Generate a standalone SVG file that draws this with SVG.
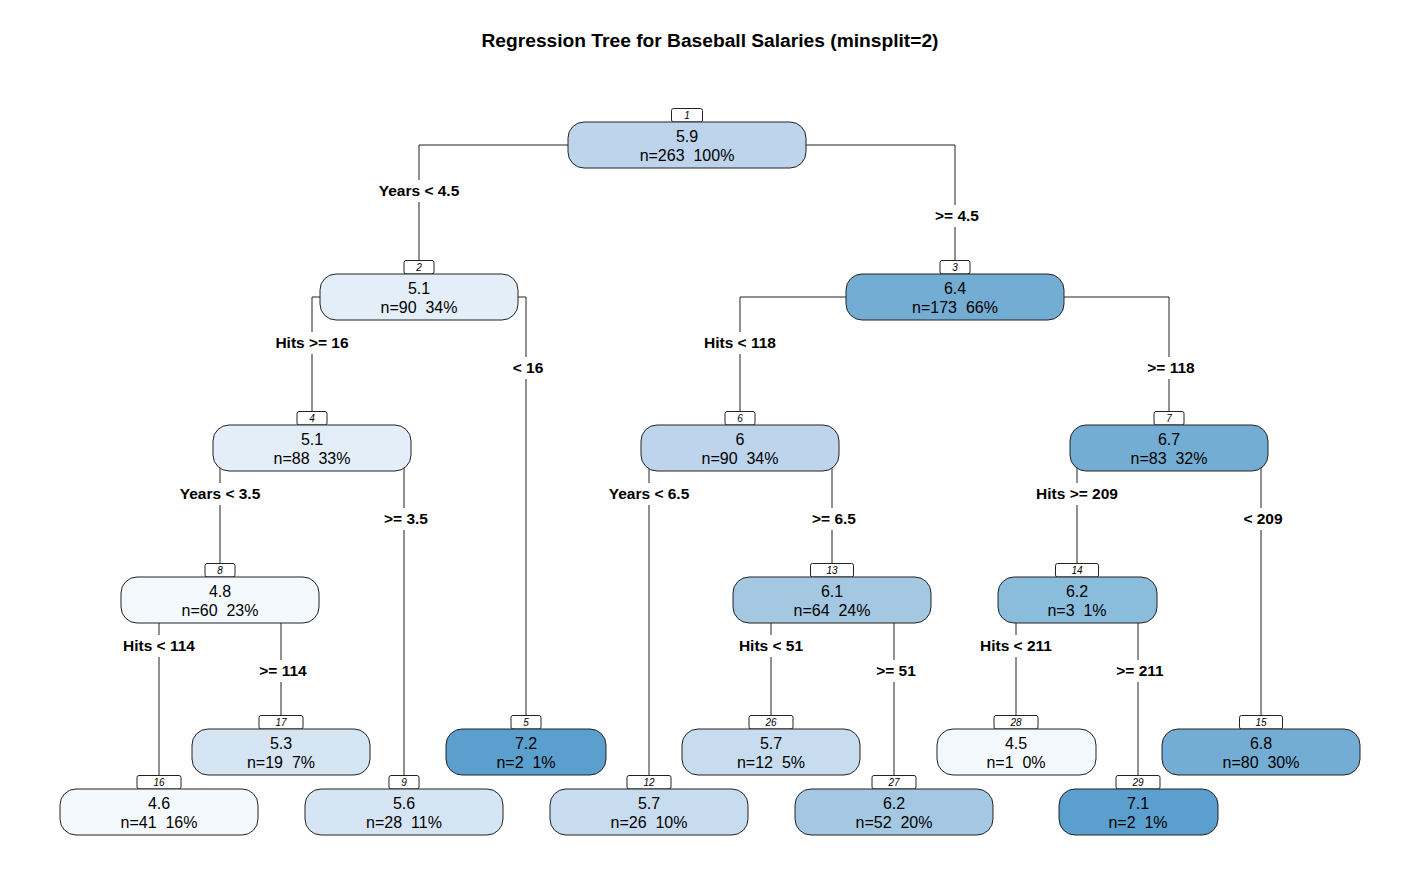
<svg xmlns="http://www.w3.org/2000/svg" width="1420" height="882" viewBox="0 0 1420 882">
<style>
text{font-family:"Liberation Sans",Arial,sans-serif;fill:#000}
.title{font-size:19.2px;font-weight:bold;text-anchor:middle}
.box{stroke:#222;stroke-width:1}
.nb{fill:#fff;stroke:#222;stroke-width:1}
.nt{font-size:10px;font-style:italic;text-anchor:middle}
.v{font-size:16px;text-anchor:middle;white-space:pre}
.e{fill:none;stroke:#222;stroke-width:1}
.gap{fill:#fff}
.lab{font-size:15.5px;font-weight:bold;text-anchor:middle}
</style>
<rect width="1420" height="882" fill="#fff"/>
<text class="title" x="710" y="47">Regression Tree for Baseball Salaries (minsplit=2)</text>
<g id="connectors">
<path class="e" d="M687,145 H419 V260"/>
<path class="e" d="M687,145 H955 V260"/>
<path class="e" d="M419,297 H312 V412"/>
<path class="e" d="M419,297 H526 V716"/>
<path class="e" d="M955,297 H740 V412"/>
<path class="e" d="M955,297 H1169 V412"/>
<path class="e" d="M312,448 H220 V564"/>
<path class="e" d="M312,448 H404 V776"/>
<path class="e" d="M740,448 H649 V776"/>
<path class="e" d="M740,448 H832 V564"/>
<path class="e" d="M1169,448 H1077 V564"/>
<path class="e" d="M1169,448 H1261 V716"/>
<path class="e" d="M220,600 H159 V776"/>
<path class="e" d="M220,600 H281 V716"/>
<path class="e" d="M832,600 H771 V716"/>
<path class="e" d="M832,600 H894 V776"/>
<path class="e" d="M1077,600 H1016 V716"/>
<path class="e" d="M1077,600 H1138 V776"/>
<rect class="gap" x="399" y="180" width="40" height="22"/><text class="lab" x="419" y="195.5">Years &lt; 4.5</text>
<rect class="gap" x="935" y="205" width="40" height="22"/><text class="lab" x="957" y="220.5">&gt;= 4.5</text>
<rect class="gap" x="292" y="332" width="40" height="22"/><text class="lab" x="312" y="347.5">Hits &gt;= 16</text>
<rect class="gap" x="506" y="357" width="40" height="22"/><text class="lab" x="528" y="372.5">&lt; 16</text>
<rect class="gap" x="720" y="332" width="40" height="22"/><text class="lab" x="740" y="347.5">Hits &lt; 118</text>
<rect class="gap" x="1149" y="357" width="40" height="22"/><text class="lab" x="1171" y="372.5">&gt;= 118</text>
<rect class="gap" x="200" y="483" width="40" height="22"/><text class="lab" x="220" y="498.5">Years &lt; 3.5</text>
<rect class="gap" x="384" y="508" width="40" height="22"/><text class="lab" x="406" y="523.5">&gt;= 3.5</text>
<rect class="gap" x="629" y="483" width="40" height="22"/><text class="lab" x="649" y="498.5">Years &lt; 6.5</text>
<rect class="gap" x="812" y="508" width="40" height="22"/><text class="lab" x="834" y="523.5">&gt;= 6.5</text>
<rect class="gap" x="1057" y="483" width="40" height="22"/><text class="lab" x="1077" y="498.5">Hits &gt;= 209</text>
<rect class="gap" x="1241" y="508" width="40" height="22"/><text class="lab" x="1263" y="523.5">&lt; 209</text>
<rect class="gap" x="139" y="635" width="40" height="22"/><text class="lab" x="159" y="650.5">Hits &lt; 114</text>
<rect class="gap" x="261" y="660" width="40" height="22"/><text class="lab" x="283" y="675.5">&gt;= 114</text>
<rect class="gap" x="751" y="635" width="40" height="22"/><text class="lab" x="771" y="650.5">Hits &lt; 51</text>
<rect class="gap" x="874" y="660" width="40" height="22"/><text class="lab" x="896" y="675.5">&gt;= 51</text>
<rect class="gap" x="996" y="635" width="40" height="22"/><text class="lab" x="1016" y="650.5">Hits &lt; 211</text>
<rect class="gap" x="1118" y="660" width="40" height="22"/><text class="lab" x="1140" y="675.5">&gt;= 211</text>
</g>
<g id="node1"><rect class="nb" x="671.5" y="108.5" width="31" height="13.5" rx="2"/><text class="nt" x="687" y="119">1</text><rect class="box" x="568" y="122" width="238" height="46" rx="16" fill="#BDD4EC"/><text class="v" x="687" y="142">5.9</text><text class="v" x="687" y="161">n=263  100%</text></g>
<g id="node2"><rect class="nb" x="404" y="260.5" width="30" height="13.5" rx="2"/><text class="nt" x="419" y="271">2</text><rect class="box" x="320" y="274" width="198" height="46" rx="16" fill="#E3EEF9"/><text class="v" x="419" y="294">5.1</text><text class="v" x="419" y="313">n=90  34%</text></g>
<g id="node3"><rect class="nb" x="940" y="260.5" width="30" height="13.5" rx="2"/><text class="nt" x="955" y="271">3</text><rect class="box" x="846" y="274" width="218" height="46" rx="16" fill="#73ADD3"/><text class="v" x="955" y="294">6.4</text><text class="v" x="955" y="313">n=173  66%</text></g>
<g id="node4"><rect class="nb" x="297" y="411.5" width="30" height="13.5" rx="2"/><text class="nt" x="312" y="422">4</text><rect class="box" x="213" y="425" width="198" height="46" rx="16" fill="#E3EEF9"/><text class="v" x="312" y="445">5.1</text><text class="v" x="312" y="464">n=88  33%</text></g>
<g id="node5"><rect class="nb" x="511" y="715.5" width="30" height="13.5" rx="2"/><text class="nt" x="526" y="726">5</text><rect class="box" x="446" y="729" width="160" height="46" rx="16" fill="#5A9FCD"/><text class="v" x="526" y="749">7.2</text><text class="v" x="526" y="768">n=2  1%</text></g>
<g id="node6"><rect class="nb" x="725" y="411.5" width="30" height="13.5" rx="2"/><text class="nt" x="740" y="422">6</text><rect class="box" x="641" y="425" width="198" height="46" rx="16" fill="#BDD4EC"/><text class="v" x="740" y="445">6</text><text class="v" x="740" y="464">n=90  34%</text></g>
<g id="node7"><rect class="nb" x="1154" y="411.5" width="30" height="13.5" rx="2"/><text class="nt" x="1169" y="422">7</text><rect class="box" x="1070" y="425" width="198" height="46" rx="16" fill="#73ADD3"/><text class="v" x="1169" y="445">6.7</text><text class="v" x="1169" y="464">n=83  32%</text></g>
<g id="node8"><rect class="nb" x="205" y="563.5" width="30" height="13.5" rx="2"/><text class="nt" x="220" y="574">8</text><rect class="box" x="121" y="577" width="198" height="46" rx="16" fill="#F4F9FE"/><text class="v" x="220" y="597">4.8</text><text class="v" x="220" y="616">n=60  23%</text></g>
<g id="node9"><rect class="nb" x="389" y="775.5" width="30" height="13.5" rx="2"/><text class="nt" x="404" y="786">9</text><rect class="box" x="305" y="789" width="198" height="46" rx="16" fill="#D6E5F4"/><text class="v" x="404" y="809">5.6</text><text class="v" x="404" y="828">n=28  11%</text></g>
<g id="node12"><rect class="nb" x="627" y="775.5" width="44" height="13.5" rx="2"/><text class="nt" x="649" y="786">12</text><rect class="box" x="550" y="789" width="198" height="46" rx="16" fill="#C8DCF0"/><text class="v" x="649" y="809">5.7</text><text class="v" x="649" y="828">n=26  10%</text></g>
<g id="node13"><rect class="nb" x="810.5" y="563.5" width="43" height="13.5" rx="2"/><text class="nt" x="832" y="574">13</text><rect class="box" x="733" y="577" width="198" height="46" rx="16" fill="#A5C8E2"/><text class="v" x="832" y="597">6.1</text><text class="v" x="832" y="616">n=64  24%</text></g>
<g id="node14"><rect class="nb" x="1055.5" y="563.5" width="43" height="13.5" rx="2"/><text class="nt" x="1077" y="574">14</text><rect class="box" x="998" y="577" width="159" height="46" rx="16" fill="#8ABCDB"/><text class="v" x="1077" y="597">6.2</text><text class="v" x="1077" y="616">n=3  1%</text></g>
<g id="node15"><rect class="nb" x="1239.5" y="715.5" width="43" height="13.5" rx="2"/><text class="nt" x="1261" y="726">15</text><rect class="box" x="1162" y="729" width="198" height="46" rx="16" fill="#73ADD3"/><text class="v" x="1261" y="749">6.8</text><text class="v" x="1261" y="768">n=80  30%</text></g>
<g id="node16"><rect class="nb" x="137" y="775.5" width="44" height="13.5" rx="2"/><text class="nt" x="159" y="786">16</text><rect class="box" x="60" y="789" width="198" height="46" rx="16" fill="#F4F9FE"/><text class="v" x="159" y="809">4.6</text><text class="v" x="159" y="828">n=41  16%</text></g>
<g id="node17"><rect class="nb" x="259" y="715.5" width="44" height="13.5" rx="2"/><text class="nt" x="281" y="726">17</text><rect class="box" x="192" y="729" width="178" height="46" rx="16" fill="#D6E5F4"/><text class="v" x="281" y="749">5.3</text><text class="v" x="281" y="768">n=19  7%</text></g>
<g id="node26"><rect class="nb" x="749" y="715.5" width="44" height="13.5" rx="2"/><text class="nt" x="771" y="726">26</text><rect class="box" x="682" y="729" width="178" height="46" rx="16" fill="#C8DCF0"/><text class="v" x="771" y="749">5.7</text><text class="v" x="771" y="768">n=12  5%</text></g>
<g id="node27"><rect class="nb" x="872" y="775.5" width="44" height="13.5" rx="2"/><text class="nt" x="894" y="786">27</text><rect class="box" x="795" y="789" width="198" height="46" rx="16" fill="#A5C8E2"/><text class="v" x="894" y="809">6.2</text><text class="v" x="894" y="828">n=52  20%</text></g>
<g id="node28"><rect class="nb" x="994" y="715.5" width="44" height="13.5" rx="2"/><text class="nt" x="1016" y="726">28</text><rect class="box" x="937" y="729" width="159" height="46" rx="16" fill="#F4F9FE"/><text class="v" x="1016" y="749">4.5</text><text class="v" x="1016" y="768">n=1  0%</text></g>
<g id="node29"><rect class="nb" x="1116" y="775.5" width="44" height="13.5" rx="2"/><text class="nt" x="1138" y="786">29</text><rect class="box" x="1059" y="789" width="159" height="46" rx="16" fill="#5A9FCD"/><text class="v" x="1138" y="809">7.1</text><text class="v" x="1138" y="828">n=2  1%</text></g>
</svg>
